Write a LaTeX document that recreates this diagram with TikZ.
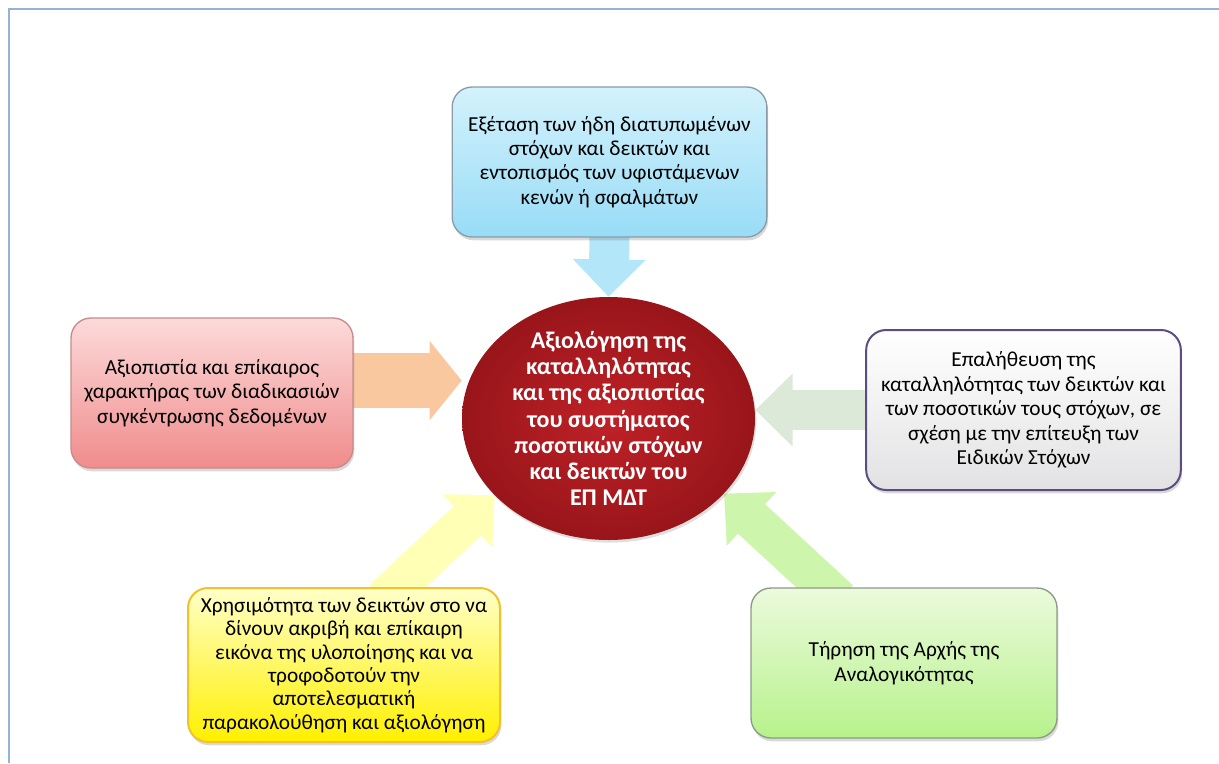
\documentclass[tikz,border=0pt]{standalone}
\usepackage{fontspec}
\setmainfont{Carlito}
\usetikzlibrary{arrows.meta, shapes.geometric, shadows, backgrounds, positioning}
\definecolor{framecol}{HTML}{95B3D7}
\definecolor{topA}{HTML}{D3F2FC}
\definecolor{topB}{HTML}{98DCF6}
\definecolor{topline}{HTML}{8A9CA8}
\definecolor{toparr}{HTML}{B3E6F9}
\definecolor{leftA}{HTML}{FCDADA}
\definecolor{leftB}{HTML}{F08C8C}
\definecolor{leftline}{HTML}{C98A8A}
\definecolor{leftarr}{HTML}{FAC89F}
\definecolor{rightA}{HTML}{FFFFFF}
\definecolor{rightB}{HTML}{E2E2E4}
\definecolor{rightline}{HTML}{5D4C7F}
\definecolor{rightarr}{HTML}{DCE8D8}
\definecolor{blA}{HTML}{FFFFC8}
\definecolor{blB}{HTML}{FFF000}
\definecolor{blline}{HTML}{F2C12E}
\definecolor{blarr}{HTML}{FFFFB5}
\definecolor{brA}{HTML}{EBFADC}
\definecolor{brB}{HTML}{B7F28C}
\definecolor{brline}{HTML}{8E9A88}
\definecolor{brarr}{HTML}{CDF5AB}
\definecolor{evalin}{HTML}{BF2227}
\definecolor{evalout}{HTML}{98151A}
\tikzset{
    box/.style={rounded corners=15pt, align=center, inner sep=4pt, line width=1pt,
        font=\fontsize{16}{18.3}\selectfont,
        drop shadow={shadow xshift=1pt, shadow yshift=-2.5pt, opacity=0.3}},
    blockarrow/.style={line width=30pt, -{Triangle[width=53pt,length=28pt]}, shorten <=-14pt},
}

\begin{document}
\begin{tikzpicture}[x=0.75pt, y=-0.75pt]
    \useasboundingbox (0,0) rectangle (1219,763);
    \draw[framecol, line width=1.5pt] (1219,9) -- (9,9) -- (9,763);

    % centre
    \node[ellipse, minimum width=219.75pt, minimum height=182.25pt, inner sep=0pt,
        inner color=evalin, outer color=evalout,
        drop shadow={shadow xshift=1pt, shadow yshift=-2pt, opacity=0.25}] (eval) at (608.5,418.5) {};
    \node[align=center, text=white, font=\bfseries\fontsize{18}{19.6}\selectfont] (evaltxt) at (eval.center)
        {Αξιολόγηση της\\καταλληλότητας\\και της αξιοπιστίας\\του συστήματος\\ποσοτικών στόχων\\και δεικτών του\\ΕΠ ΜΔΤ};

    % boxes
    \node[box, draw=topline, top color=topA, bottom color=topB, minimum width=236pt, minimum height=112.5pt] (top) at (609.5,162)
        {Εξέταση των ήδη διατυπωμένων\\στόχων και δεικτών και\\εντοπισμός των υφιστάμενων\\κενών ή σφαλμάτων};
    \node[box, draw=leftline, top color=leftA, bottom color=leftB, minimum width=211.5pt, minimum height=112.5pt] (left) at (212,393)
        {Αξιοπιστία και επίκαιρος\\χαρακτήρας των διαδικασιών\\συγκέντρωσης δεδομένων};
    \node[box, draw=rightline, line width=1.5pt, top color=rightA, bottom color=rightB, minimum width=236pt, minimum height=120pt] (right) at (1023.5,410)
        {Επαλήθευση της\\καταλληλότητας των δεικτών και\\των ποσοτικών τους στόχων, σε\\σχέση με την επίτευξη των\\Ειδικών Στόχων};
    \node[box, draw=blline, line width=1.5pt, top color=blA, bottom color=blB, minimum width=234pt, minimum height=115.5pt,
        font=\fontsize{16}{17.5}\selectfont] (bl) at (344,665)
        {Χρησιμότητα των δεικτών στο να\\δίνουν ακριβή και επίκαιρη\\εικόνα της υλοποίησης και να\\τροφοδοτούν την\\αποτελεσματική\\παρακολούθηση και αξιολόγηση};
    \node[box, draw=brline, top color=brA, bottom color=brB, minimum width=229.5pt, minimum height=112.5pt] (br) at (904,663)
        {Τήρηση της Αρχής της\\Αναλογικότητας};

    % arrows
    \begin{pgfonlayer}{background}
        \draw[blockarrow, draw=toparr, fill=toparr] (top.south) -- (eval.north);
        \draw[blockarrow, draw=leftarr, fill=leftarr, line width=41pt, -{Triangle[width=58pt,length=24pt]}] (left.5) -- (left.5 -| eval.west);
        \draw[blockarrow, draw=rightarr, fill=rightarr] (right.west) -- (right.west -| eval.east);
        \draw[blockarrow, draw=blarr, fill=blarr] (bl.56) -- (eval.214);
        \draw[blockarrow, draw=brarr, fill=brarr] (br.136) -- (eval.327);
    \end{pgfonlayer}
\end{tikzpicture}
\end{document}
